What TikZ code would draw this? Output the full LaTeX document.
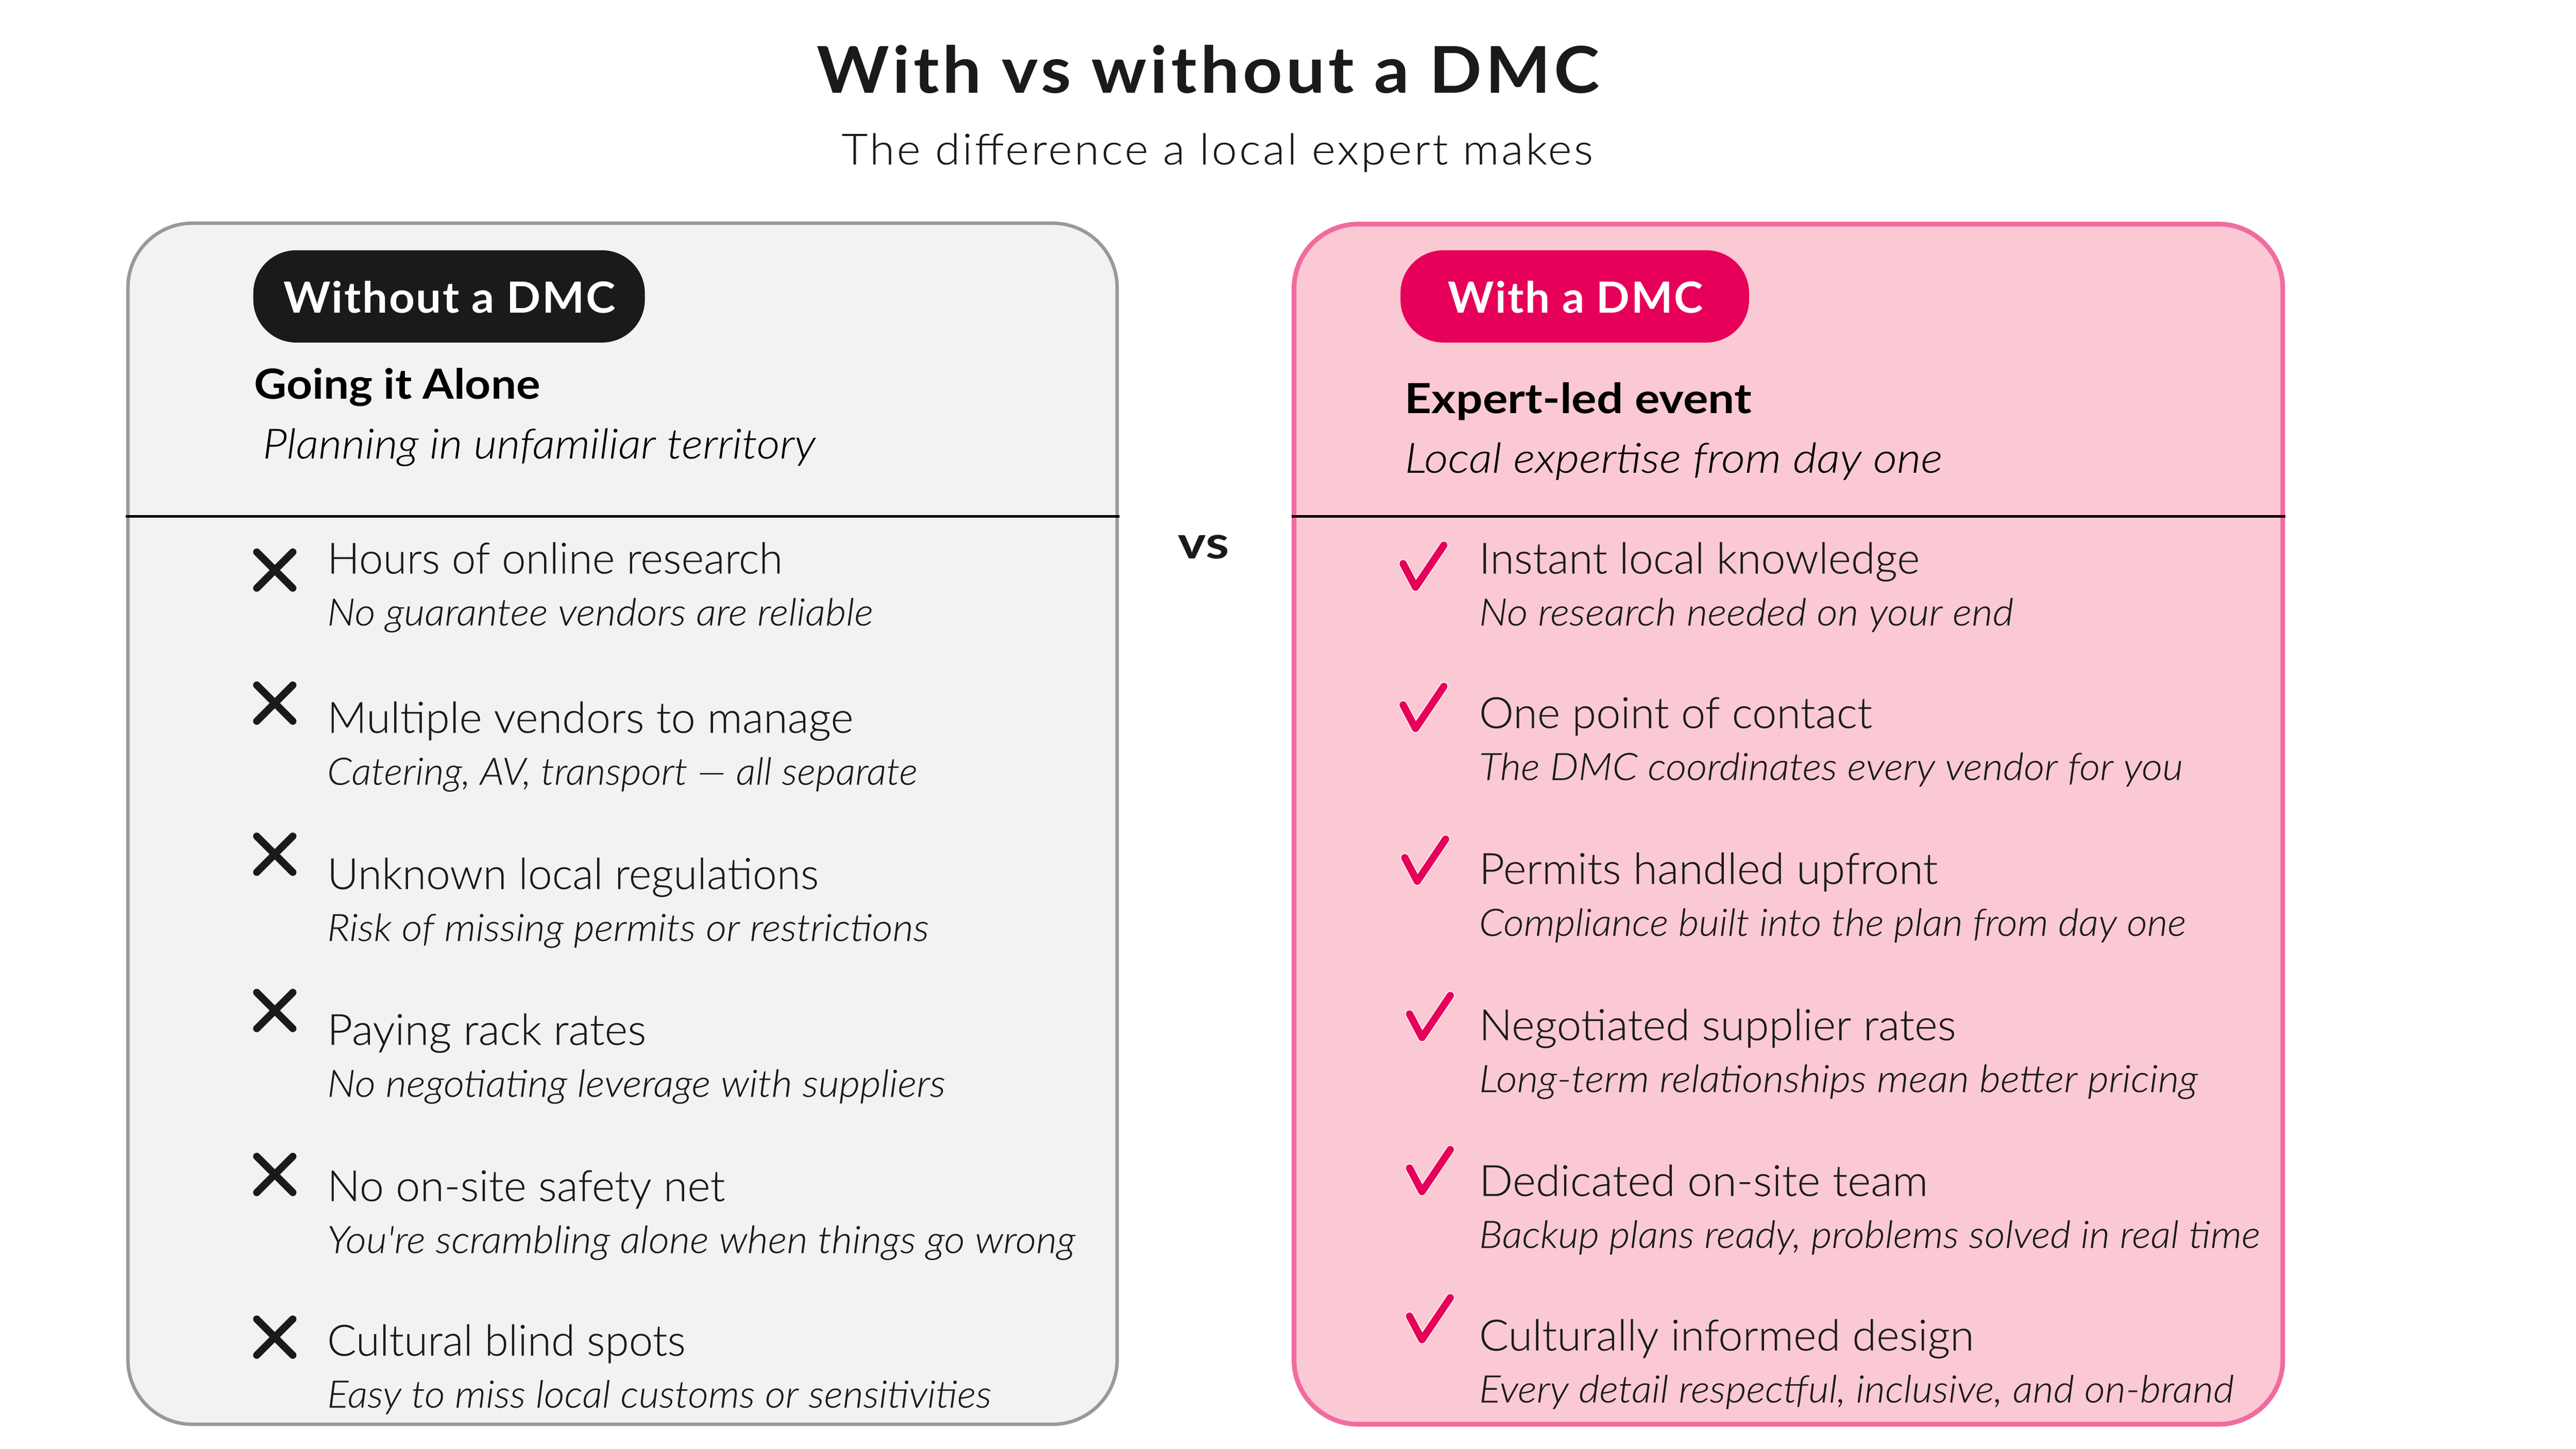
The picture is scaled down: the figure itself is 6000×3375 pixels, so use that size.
\documentclass[tikz,border=0pt]{standalone}
\usepackage{fontspec}
\setmainfont{Lato}
\newfontfamily\lightf{Lato Light}[ItalicFont={Lato Light Italic},FakeBold=0.25]
\definecolor{ink}{HTML}{1A1A1A}
\definecolor{hot}{HTML}{E6005A}
\definecolor{pinkfill}{HTML}{FAC9D3}
\definecolor{pinkedge}{HTML}{F06BA0}
\definecolor{greyfill}{HTML}{F2F2F1}
\definecolor{greyedge}{HTML}{999999}
\newcommand{\fz}[1]{\fontsize{#1pt}{#1pt}\selectfont}
\newlength\fitlen
% set a text to a given width (in units of the 1568-wide view), keeping its height
\newcommand{\fitw}[2]{\pgfmathsetlength{\fitlen}{#1*0.03827cm}\resizebox{\fitlen}{\height}{#2}}
\tikzset{
 x=0.01cm,y=-0.01cm,
 txt/.style={anchor=base west,inner sep=0pt,outer sep=0pt,text=ink},
 titletxt/.style={txt,font=\fz{42.7}\bfseries\addfontfeature{LetterSpace=5}},
 subtitletxt/.style={txt,font=\lightf\fz{28.45}\addfontfeature{LetterSpace=5}},
 pilltxt/.style={txt,text=white,yshift=-0.03cm,font=\fz{28.45}\bfseries\addfontfeature{LetterSpace=3}},
 headtxt/.style={txt,text=black,font=\fz{27.5}\bfseries},
 headsub/.style={txt,text=black,font=\lightf\itshape\fz{27.5}},
 itemtxt/.style={txt,yshift=-0.03cm,font=\lightf\fz{28.5}},
 itemsub/.style={txt,yshift=-0.03cm,font=\lightf\itshape\fz{25}},
 cardgrey/.style={draw=greyedge,fill=greyfill,line width=8*0.01cm,rounded corners=150*0.01cm},
 cardpink/.style={draw=pinkedge,fill=pinkfill,line width=11*0.01cm,rounded corners=150*0.01cm},
 rulel/.style={draw=black,line width=6*0.01cm},
 crossmark/.style={draw=ink,line width=17*0.01cm,line cap=round},
 checkhalo/.style={draw=white,line width=21*0.01cm,line cap=round,line join=round},
 checkmark/.style={draw=hot,line width=17*0.01cm,line cap=round,line join=round},
}
\newcommand{\crossat}[2]{\draw[crossmark] (#1-42,#2-42) -- (#1+42,#2+42) (#1-42,#2+42) -- (#1+42,#2-42);}
\newcommand{\checkat}[2]{%
 \draw[checkhalo] (#1,#2) ++(-47,0) -- ++(29,55) -- ++(66,-98);
 \draw[checkmark] (#1,#2) ++(-47,0) -- ++(29,55) -- ++(66,-98);}
\begin{document}
\begin{tikzpicture}
\useasboundingbox (0,0) rectangle (6000,3375);
\fill[white] (0,0) rectangle (6000,3375);
\node[titletxt] (title) at (1903,216) {\fitw{476}{With vs without a DMC}};
\node[subtitletxt] (subtitle) at (1960,383) {\fitw{457}{The difference a local expert makes}};
\draw[cardgrey] (298,520) rectangle (2602,3318);
\draw[cardpink] (3014,522) rectangle (5317,3318);
\draw[rulel] (293,1203) -- (2608,1203);
\draw[rulel] (3008,1203) -- (5323,1203);
\fill[ink] (590,583) [rounded corners=100*0.01cm] rectangle (1502,798);
\fill[hot] (3262,583) [rounded corners=100*0.01cm] rectangle (4074,798);
\node[pilltxt] (pa) at (660,726) {\fitw{202}{Without a DMC}};
\node[pilltxt] (pb) at (3373,726) {\fitw{155}{With a DMC}};
\node[headtxt] (ha) at (592,929) {\fitw{174}{Going it Alone}};
\node[headsub] (hsa) at (612,1068) {\fitw{336}{Planning in unfamiliar territory}};
\node[headtxt] (hb) at (3272,963) {\fitw{211}{Expert-led event}};
\node[headsub] (hsb) at (3272,1101) {\fitw{327}{Local expertise from day one}};
\node[txt,font=\fz{30}\bfseries] (vs) at (2744,1301) {\fitw{31}{vs}};
% left
\node[itemtxt] (l1) at (762,1333) {\fitw{277}{Hours of online research}};
\node[itemsub] (ls1) at (762,1454) {\fitw{332}{No guarantee vendors are reliable}};
\node[itemtxt] (l2) at (762,1704) {\fitw{320}{Multiple vendors to manage}};
\node[itemsub] (ls2) at (762,1825) {\fitw{359}{Catering, AV, transport — all separate}};
\node[itemtxt] (l3) at (762,2068) {\fitw{299}{Unknown local regulations}};
\node[itemsub] (ls3) at (762,2189) {\fitw{366}{Risk of missing permits or restrictions}};
\node[itemtxt] (l4) at (762,2431) {\fitw{194}{Paying rack rates}};
\node[itemsub] (ls4) at (762,2552) {\fitw{376}{No negotiating leverage with suppliers}};
\node[itemtxt] (l5) at (762,2795) {\fitw{242}{No on-site safety net}};
\node[itemsub] (ls5) at (762,2916) {\fitw{455}{You're scrambling alone when things go wrong}};
\node[itemtxt] (l6) at (762,3155) {\fitw{218}{Cultural blind spots}};
\node[itemsub] (ls6) at (762,3276) {\fitw{404}{Easy to miss local customs or sensitivities}};
% right
\node[itemtxt] (r1) at (3445,1333) {\fitw{268}{Instant local knowledge}};
\node[itemsub] (rs1) at (3445,1454) {\fitw{325}{No research needed on your end}};
\node[itemtxt] (r2) at (3445,1693) {\fitw{239}{One point of contact}};
\node[itemsub] (rs2) at (3445,1814) {\fitw{428}{The DMC coordinates every vendor for you}};
\node[itemtxt] (r3) at (3445,2056) {\fitw{279}{Permits handled upfront}};
\node[itemsub] (rs3) at (3445,2177) {\fitw{430}{Compliance built into the plan from day one}};
\node[itemtxt] (r4) at (3445,2420) {\fitw{290}{Negotiated supplier rates}};
\node[itemsub] (rs4) at (3445,2541) {\fitw{437}{Long-term relationships mean better pricing}};
\node[itemtxt] (r5) at (3445,2783) {\fitw{273}{Dedicated on-site team}};
\node[itemsub] (rs5) at (3445,2904) {\fitw{475}{Backup plans ready, problems solved in real time}};
\node[itemtxt] (r6) at (3445,3143) {\fitw{301}{Culturally informed design}};
\node[itemsub] (rs6) at (3445,3264) {\fitw{459}{Every detail respectful, inclusive, and on-brand}};
\crossat{640}{1328}\crossat{640}{1638}\crossat{640}{1990}\crossat{640}{2354}\crossat{640}{2736}\crossat{640}{3115}
\checkat{3315}{1313}\checkat{3315}{1642}\checkat{3319}{1998}\checkat{3330}{2362}\checkat{3330}{2721}\checkat{3330}{3066}
\end{tikzpicture}
\end{document}
